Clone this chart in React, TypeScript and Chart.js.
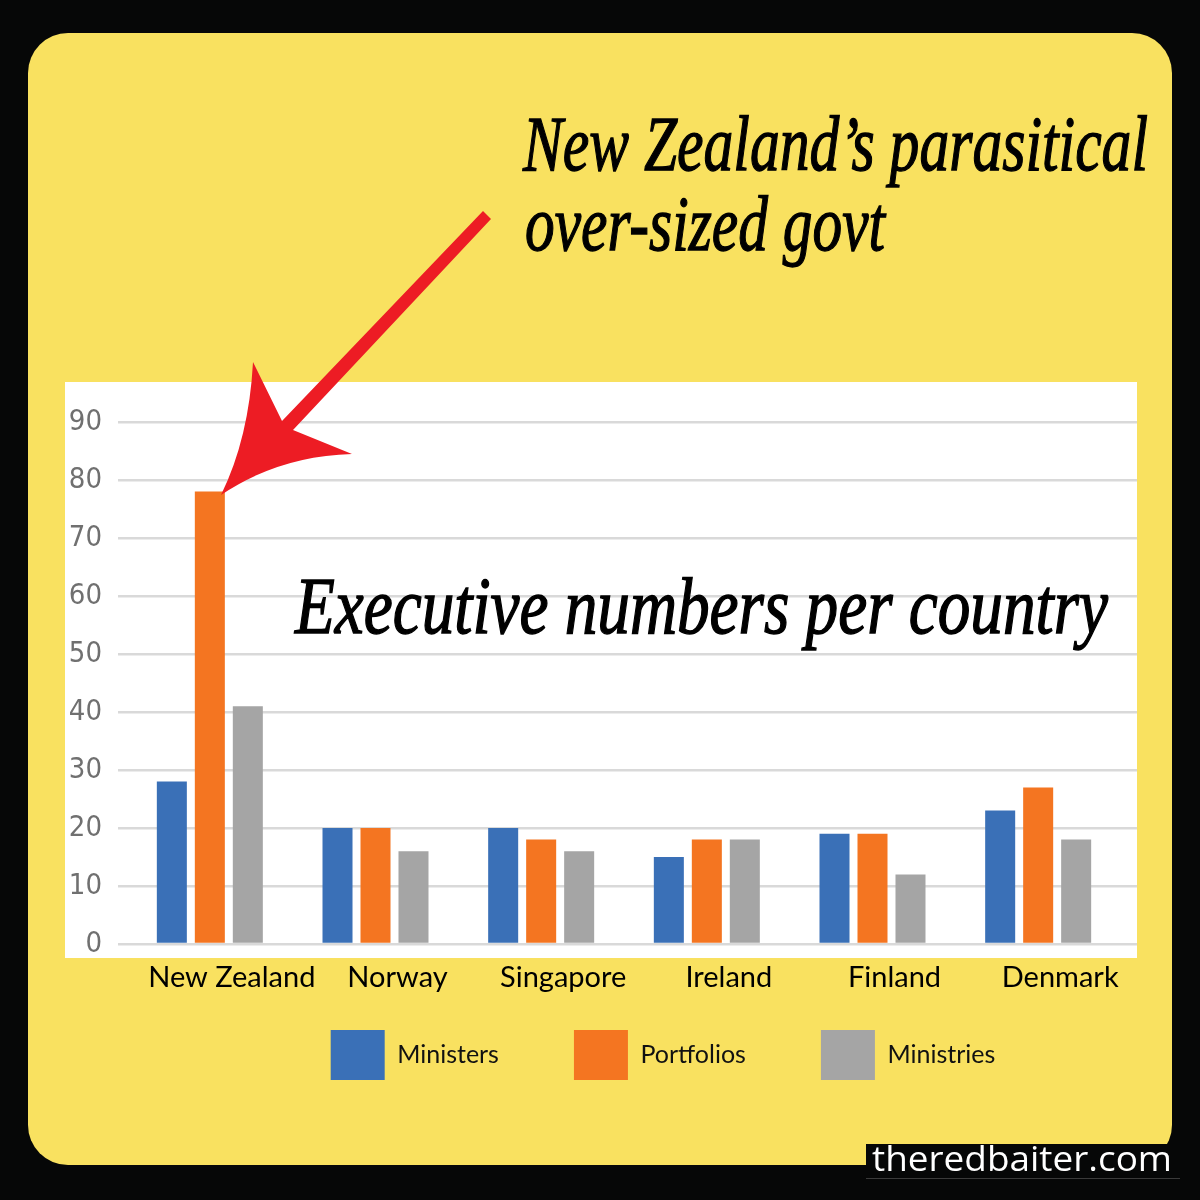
import React, { useEffect, useLayoutEffect, useRef } from "react";
import { Chart, registerables } from "chart.js";

Chart.register(...registerables);

// ---------- data ----------
const countries = ["New Zealand", "Norway", "Singapore", "Ireland", "Finland", "Denmark"];
const seriesNames = ["Ministers", "Portfolios", "Ministries"];
const ministers = [28, 20, 20, 15, 19, 23];
const portfolios = [78, 20, 18, 18, 19, 27];
const ministries = [41, 16, 16, 18, 12, 18];
const seriesColors = ["#3A70B7", "#F47521", "#A5A5A5"];
const yMin = 0;
const yMax = 90;
const yStep = 10;
const headline = ["New Zealand\u2019s parasitical", "over-sized govt"];
const chartTitle = "Executive numbers per country";
const watermark = "theredbaiter.com";

// Adjusts box placement after Chart.js layout (legend centre, category span, label room)
const layoutTweak = {
  id: "layoutTweak",
  afterLayout(chart: any) {
    const lg = chart.legend;
    if (lg) {
      const dx = 663 - (lg.left + lg.right) / 2;
      lg.left += dx;
      lg.right += dx;
    }
    const x = chart.scales.x;
    if (x) {
      x.left = 127;
      x.right = 1121;
      x.bottom = x.top + 70;
      x.configure();
    }
  },
};

function FitLine(props: {
  text: string;
  left: number;
  top: number;
  width: number;
  size: number;
  lineHeight: number;
  family: string;
  weight?: number | string;
  italic?: boolean;
  color?: string;
  stroke?: string;
}) {
  const ref = useRef<HTMLDivElement>(null);
  useLayoutEffect(() => {
    const el = ref.current;
    if (!el) return;
    el.style.transform = "none";
    const w = el.getBoundingClientRect().width;
    if (w > 0) el.style.transform = `scaleX(${props.width / w})`;
  }, [props.text, props.width]);
  return (
    <div
      ref={ref}
      style={{
        position: "absolute",
        left: props.left,
        top: props.top,
        whiteSpace: "nowrap",
        fontFamily: props.family,
        fontSize: props.size,
        lineHeight: props.lineHeight + "px",
        fontWeight: props.weight ?? "normal",
        fontStyle: props.italic ? "italic" : "normal",
        color: props.color ?? "#000",
        WebkitTextStroke: props.stroke,
        transformOrigin: "0 0",
        zIndex: 3,
      }}
    >
      {props.text}
    </div>
  );
}

export default function App() {
  const canvasRef = useRef<HTMLCanvasElement>(null);

  useEffect(() => {
    if (!canvasRef.current) return;
    const values = [ministers, portfolios, ministries];
    const chart = new Chart(canvasRef.current, {
      type: "bar",
      data: {
        labels: countries,
        datasets: seriesNames.map((name, i) => ({
          label: name,
          data: values[i],
          backgroundColor: seriesColors[i],
          borderWidth: 0,
          categoryPercentage: 0.688,
          barPercentage: 0.79,
        })),
      },
      options: {
        responsive: false,
        animation: false,
        layout: { padding: { top: 422, right: 63, bottom: 110, left: 0 } },
        plugins: {
          legend: {
            position: "bottom",
            labels: {
              boxWidth: 54,
              boxHeight: 50,
              padding: 75,
              color: "#111",
              font: { family: "Lato", size: 25 },
            },
          },
          tooltip: { enabled: false },
        },
        scales: {
          x: {
            grid: { display: false, drawTicks: false },
            border: { display: false },
            ticks: {
              color: "#000",
              font: { family: "Lato", size: 29 },
              padding: 16,
              labelOffset: 22,
              maxRotation: 0,
              autoSkip: false,
            },
            afterFit: (s: any) => {
              s.height = 11;
            },
          },
          y: {
            min: yMin,
            max: yMax,
            ticks: {
              stepSize: yStep,
              color: "#707070",
              font: { family: "'DejaVu Sans Condensed', 'Liberation Sans Narrow', Lato", size: 29 },
              padding: 16,
            },
            grid: { color: "#d9d9d9", lineWidth: 2.5, drawTicks: false },
            border: { display: false },
            afterFit: (s: any) => {
              s.width = 118;
            },
          },
        },
      },
      plugins: [layoutTweak],
    } as any);
    return () => chart.destroy();
  }, []);

  return (
    <div
      style={{
        position: "absolute",
        left: 0,
        top: 0,
        width: 1200,
        height: 1200,
        background: "#060707",
        overflow: "hidden",
      }}
    >
      <div
        style={{
          position: "absolute",
          left: 28,
          top: 33,
          width: 1144,
          height: 1132,
          borderRadius: 40,
          background: "#F9E160",
        }}
      />
      <div
        style={{
          position: "absolute",
          left: 65,
          top: 382,
          width: 1072,
          height: 576,
          background: "#FFFFFF",
        }}
      />
      <canvas
        ref={canvasRef}
        width={1200}
        height={1200}
        style={{ position: "absolute", left: 0, top: 0, width: 1200, height: 1200, zIndex: 1 }}
      />
      <FitLine text={headline[0]} left={523} top={104} width={625} size={78} lineHeight={80}
        family="'Liberation Serif', serif" italic stroke="1.3px #000" />
      <FitLine text={headline[1]} left={525} top={184} width={360} size={78} lineHeight={80}
        family="'Liberation Serif', serif" italic stroke="1.3px #000" />
      <FitLine text={chartTitle} left={295} top={566} width={813} size={80} lineHeight={80}
        family="'Liberation Serif', serif" italic stroke="1.4px #000" />
      <svg
        width={1200}
        height={1200}
        style={{ position: "absolute", left: 0, top: 0, zIndex: 2 }}
      >
        <path
          d="M 253 362 L 282 421 L 483 211 L 491 219 L 293 430 L 352 454 Q 279 456 221 495 Q 249 438 253 362 Z"
          fill="#ED1C24"
        />
      </svg>
      <div
        style={{
          position: "absolute",
          left: 866,
          top: 1144,
          width: 314,
          height: 34,
          background: "#060707",
          borderBottom: "1px solid #3a3a3a",
          zIndex: 2,
        }}
      />
      <FitLine text={watermark} left={872} top={1140} width={300} size={35} lineHeight={36}
        family="'Open Sans', sans-serif" color="#FFFFFF" />
    </div>
  );
}
